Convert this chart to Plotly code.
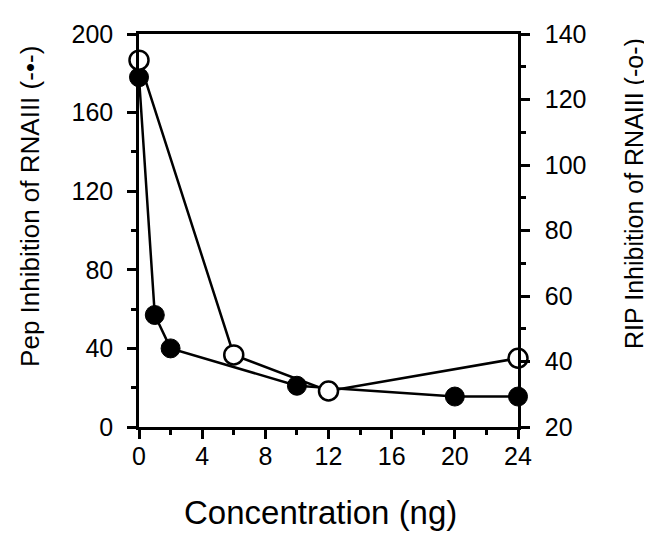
import plotly.graph_objects as go

# Pep series (left axis, filled circles)
pep_conc = [0, 1, 2, 10, 20, 24]
pep_inhib = [178, 57, 40, 21, 15.5, 15.5]

# RIP series (right axis, open circles)
rip_conc = [0, 6, 12, 24]
rip_inhib = [132, 42, 31, 41]

FONT = "Liberation Sans, Arial, Helvetica, sans-serif"

fig = go.Figure()

fig.add_trace(
    go.Scatter(
        x=rip_conc,
        y=rip_inhib,
        yaxis="y2",
        mode="lines+markers",
        line=dict(color="black", width=2.5),
        marker=dict(size=19, color="white", line=dict(color="black", width=2.5)),
        cliponaxis=False,
        showlegend=False,
    )
)
fig.add_trace(
    go.Scatter(
        x=pep_conc,
        y=pep_inhib,
        mode="lines+markers",
        line=dict(color="black", width=2.5),
        marker=dict(size=19, color="black", line=dict(color="black", width=1)),
        cliponaxis=False,
        showlegend=False,
    )
)

axis_common = dict(
    showline=True,
    linecolor="black",
    linewidth=2.5,
    showgrid=False,
    zeroline=False,
    ticks="outside",
    ticklen=9,
    tickwidth=2.5,
    tickcolor="black",
    tickfont=dict(family=FONT, size=25, color="black"),
    ticklabeloverflow="allow",
)

# page body adds an 8px margin on the top/left, so shift everything by 8px
fig.update_layout(
    width=644,
    height=527,
    margin=dict(l=131, r=134, t=14, b=108),
    plot_bgcolor="white",
    paper_bgcolor="white",
    xaxis=dict(
        **axis_common,
        range=[0, 24],
        tickvals=[0, 4, 8, 12, 16, 20, 24],
        minor=dict(tickvals=[2, 6, 10, 14, 18, 22], ticks="outside", ticklen=5,
                   tickwidth=2.5, tickcolor="black"),
        mirror=True,
        ticklabelstandoff=-4,
    ),
    yaxis=dict(
        **axis_common,
        range=[0, 200],
        tickvals=[0, 40, 80, 120, 160, 200],
        minor=dict(tickvals=[20, 60, 100, 140, 180], ticks="outside", ticklen=5,
                   tickwidth=2.5, tickcolor="black"),
        ticklabelstandoff=9,
    ),
    yaxis2=dict(
        **axis_common,
        overlaying="y",
        side="right",
        range=[20, 140],
        tickvals=[20, 40, 60, 80, 100, 120, 140],
        minor=dict(tickvals=[30, 50, 70, 90, 110, 130], ticks="outside", ticklen=5,
                   tickwidth=2.5, tickcolor="black"),
        ticklabelstandoff=10,
    ),
    annotations=[
        dict(
            text="Pep Inhibition of RNAIII (-•-)",
            xref="paper", yref="paper", x=0, y=0.56,
            xshift=-109, xanchor="center", yanchor="middle",
            textangle=-90, showarrow=False,
            font=dict(family=FONT, size=26, color="black"),
        ),
        dict(
            text="RIP Inhibition of RNAIII (-o-)",
            xref="paper", yref="paper", x=1, y=0.593,
            xshift=116, xanchor="center", yanchor="middle",
            textangle=-90, showarrow=False,
            font=dict(family=FONT, size=25, color="black"),
        ),
        dict(
            text="Concentration (ng)",
            xref="paper", yref="paper", x=0.48, y=-0.217,
            xanchor="center", yanchor="middle", showarrow=False,
            font=dict(family=FONT, size=33, color="black"),
        ),
    ],
)

fig.write_html("out.html")
